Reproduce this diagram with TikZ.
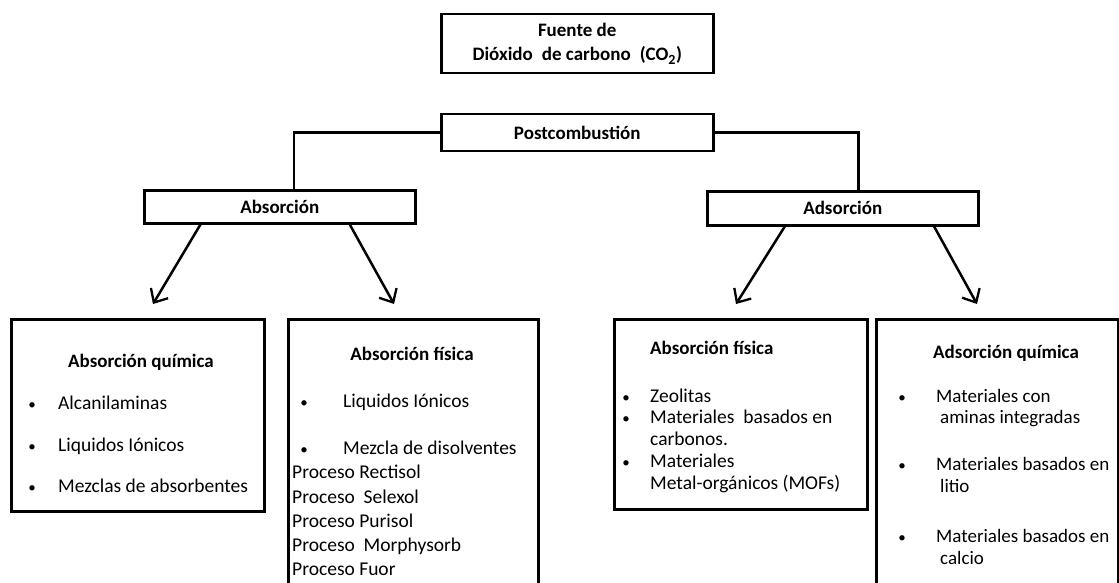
\documentclass[tikz,border=0pt]{standalone}
\usepackage{fontspec}
\setmainfont{Carlito}
\usetikzlibrary{arrows.meta,calc}
\newcommand{\smbul}{{\fontsize{15}{15}\selectfont\textbullet}}
\tikzset{
  lw/.style={line width=2.5pt},
  box/.style={draw, lw, rectangle, inner sep=0pt, anchor=north west},
  hbox/.style={box, font=\fontsize{19}{24}\selectfont\bfseries, align=center},
  txt/.style={inner sep=0pt, font=\fontsize{19.5}{24}\selectfont, text height=0.72em, text depth=0.22em},
  txts/.style={txt, font=\fontsize{19}{23}\selectfont},
  ttl/.style={txt, font=\fontsize{19}{23}\selectfont\bfseries},
  itm/.style={txt, anchor=west},
  itms/.style={txts, anchor=west},
  conn/.style={lw},
  arr/.style={lw, -{Straight Barb[length=11pt,width=20pt,line width=2.3pt]}}
}
\begin{document}
\begin{tikzpicture}[x=1pt,y=-1pt]
\useasboundingbox (0,0) rectangle (1119,583);
\clip (0,0) rectangle (1119,583);
% top boxes
\node[hbox, minimum width=272pt, minimum height=59pt] (src) at (440,13) {Fuente de\\Dióxido\hspace{9pt}de carbono\hspace{9pt}(CO\textsubscript{\fontsize{14}{14}\selectfont 2})};
\node[hbox, minimum width=272pt, minimum height=37pt] (post) at (440,113) {Postcombustión};
\node[hbox, minimum width=271pt, minimum height=33pt] (abs) at (143,189) {Absorción};
\node[hbox, minimum width=271pt, minimum height=34pt] (ads) at (706,190) {Adsorción};
% elbow connectors
\draw[conn] (post.west) -| ($(abs.north west)!0.553!(abs.north east)$);
\draw[conn] (post.east) -| ($(ads.north west)!0.557!(ads.north east)$);
% arrow end points
\coordinate (e1) at (153,304);
\coordinate (e2) at (394,304);
\coordinate (e3) at (736,304);
\coordinate (e4) at (977,304);
\draw[arr] ($(abs.south west)!0.21!(abs.south east)$) -- (e1);
\draw[arr] ($(abs.south west)!0.756!(abs.south east)$) -- (e2);
\draw[arr] ($(ads.south west)!0.288!(ads.south east)$) -- (e3);
\draw[arr] ($(ads.south west)!0.834!(ads.south east)$) -- (e4);
% bottom boxes
\node[box, minimum width=253pt, minimum height=192pt] (b1) at (10,318) {};
\node[box, minimum width=250pt, minimum height=290pt] (b2) at (287,318) {};
\node[box, minimum width=253pt, minimum height=190pt] (b3) at (613,318) {};
\node[box, minimum width=242pt, minimum height=290pt] (b4) at (875,318) {};
% box 1
\node[ttl] (b1t) at (141,365) {Absorción\ química};
\node[txt] (b1d1) at (32,407) {\smbul};
\node[itm] (b1i1) at (58,407) {Alcanilaminas};
\node[txt] (b1d2) at (32,449) {\smbul};
\node[itm] (b1i2) at (58,449) {Liquidos Iónicos};
\node[txt] (b1d3) at (32,490) {\smbul};
\node[itm] (b1i3) at (58,490) {Mezclas de absorbentes};
% box 2
\node[ttl] (b2t) at (412,358) {Absorción\ física};
\node[txt] (b2d1) at (304,405) {\smbul};
\node[itm] (b2i1) at (343,405) {Liquidos Iónicos};
\node[txt] (b2d2) at (304,452) {\smbul};
\node[itm] (b2i2) at (343,452) {Mezcla de disolventes};
\node[itm] (b2p1) at (292,476) {Proceso Rectisol};
\node[itm] (b2p2) at (292,501) {Proceso\ \ Selexol};
\node[itm] (b2p3) at (292,525) {Proceso Purisol};
\node[itm] (b2p4) at (292,549) {Proceso\ \ Morphysorb};
\node[itm] (b2p5) at (292,573) {Proceso Fuor};
% box 3
\node[ttl, anchor=west] (b3t) at (650,352) {Absorción\ física};
\node[txt] (b3d1) at (626,400) {\smbul};
\node[itm] (b3i1) at (650,400) {Zeolitas};
\node[txt] (b3d2) at (626,421) {\smbul};
\node[itm] (b3i2) at (650,421) {Materiales\ \ basados en};
\node[itm] (b3i2b) at (650,443) {carbonos.};
\node[txt] (b3d3) at (626,465) {\smbul};
\node[itm] (b3i3) at (650,465) {Materiales};
\node[itm] (b3i3b) at (650,487) {Metal-orgánicos (MOFs)};
% box 4
\node[ttl, anchor=west] (b4t) at (933,356) {Adsorción\ química};
\node[txt] (b4d1) at (902,400) {\smbul};
\node[itms] (b4i1) at (936,400) {Materiales con};
\node[itms] (b4i1b) at (940,421) {aminas integradas};
\node[txt] (b4d2) at (902,468) {\smbul};
\node[itms] (b4i2) at (936,468) {Materiales basados en};
\node[itms] (b4i2b) at (940,490) {litio};
\node[txt] (b4d3) at (902,540) {\smbul};
\node[itms] (b4i3) at (936,540) {Materiales basados en};
\node[itms] (b4i3b) at (940,562) {calcio};
\end{tikzpicture}
\end{document}
